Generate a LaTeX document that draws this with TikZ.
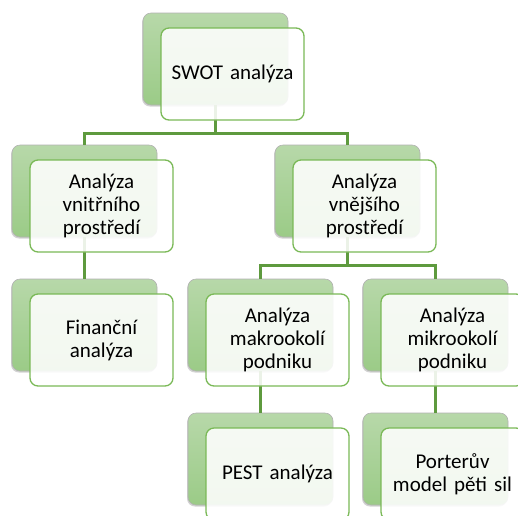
\documentclass[tikz,border=0pt]{standalone}
\usepackage{fontspec}
\setmainfont{Carlito}
\usetikzlibrary{calc,shadows}
\definecolor{backtop}{HTML}{B7D8A9}
\definecolor{backbot}{HTML}{9BCB87}
\definecolor{frontline}{HTML}{7AB957}
\definecolor{conncol}{HTML}{5E9A3E}
\tikzset{
  backbox/.style={rectangle, rounded corners=8pt, minimum width=145pt, minimum height=92pt,
    top color=backtop, bottom color=backbot, draw=black!30, line width=0.6pt,
    drop shadow={shadow xshift=-1pt, shadow yshift=-1.5pt, opacity=0.35}},
  frontbox/.style={rectangle, rounded corners=8pt, minimum width=143pt, minimum height=92pt,
    draw=frontline, line width=1.3pt, fill=white, fill opacity=0.88, text opacity=1,
    align=center, font=\fontsize{21pt}{23pt}\selectfont, text width=135pt, inner sep=0pt},
  conn/.style={draw=conncol, line width=2.8pt}
}
\begin{document}
\begin{tikzpicture}[x=1pt,y=-1pt]
\useasboundingbox (0,0) rectangle (518,515);
\clip (0,0) rectangle (518,515);
\fill[white] (0,0) rectangle (518,515);
% back boxes (top-left corner + half size)
\node[backbox] (swotb) at (215.5,59) {};
\node[backbox] (vnib) at (84.5,191) {};
\node[backbox] (vnejb) at (347.5,191) {};
\node[backbox] (finb) at (84.5,325) {};
\node[backbox] (makb) at (260.5,325) {};
\node[backbox] (mikb) at (435.5,325) {};
\node[backbox] (pestb) at (260.5,459) {};
\node[backbox] (portb) at (435.5,459) {};
% connectors
\draw[conn] (swotb.south) -- ++(0,28) -| (vnib.north);
\draw[conn] (swotb.south) -- ++(0,28) -| (vnejb.north);
\draw[conn] (vnib.south) -- (finb.north);
\draw[conn] (vnejb.south) -- ++(0,28) -| (makb.north);
\draw[conn] (vnejb.south) -- ++(0,28) -| (mikb.north);
\draw[conn] (makb.south) -- (pestb.north);
\draw[conn] (mikb.south) -- (portb.north);
% front boxes
\node[frontbox] (swot) at (232.5,74) {SWOT analýza};
\node[frontbox] (vni) at (101.5,206) {Analýza\\vnitřního\\prostředí};
\node[frontbox] (vnej) at (364.5,206) {Analýza\\vnějšího\\prostředí};
\node[frontbox] (fin) at (101.5,340) {Finanční\\analýza};
\node[frontbox] (mak) at (277.5,340) {Analýza\\makrookolí\\podniku};
\node[frontbox] (mik) at (452.5,340) {Analýza\\mikrookolí\\podniku};
\node[frontbox] (pest) at (277.5,474) {PEST analýza};
\node[frontbox] (port) at (452.5,474) {Porterův\\model pěti sil};
\end{tikzpicture}
\end{document}
